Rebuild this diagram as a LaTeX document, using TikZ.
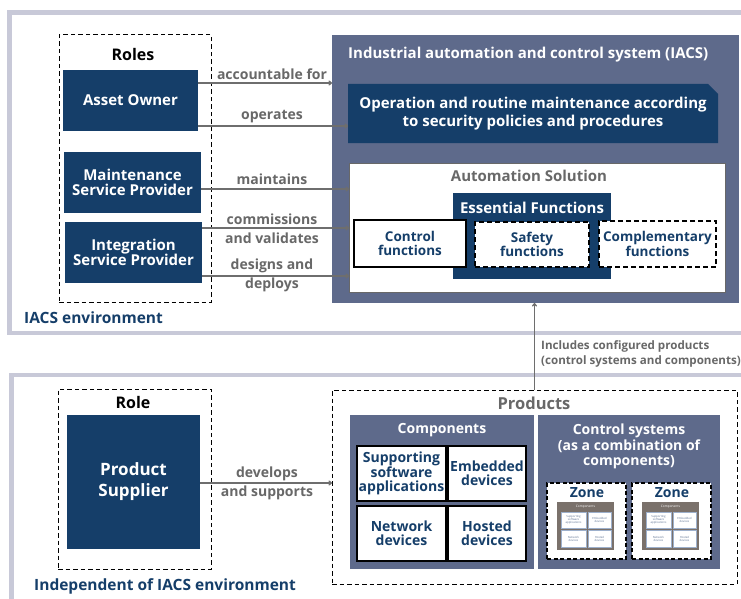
\documentclass[tikz,border=0pt]{standalone}
\usepackage{fontspec}
\setmainfont{Open Sans}
\usetikzlibrary{arrows.meta,calc}
\definecolor{dblue}{HTML}{153E69}
\definecolor{slate}{HTML}{5E6A8B}
\definecolor{panelc}{HTML}{C8C9D8}
\definecolor{txtgray}{HTML}{686868}
\definecolor{arrgray}{HTML}{6E6E6E}
\definecolor{zonebg}{HTML}{7A716B}
\definecolor{minib}{HTML}{9DB0CC}
\definecolor{minit}{HTML}{5A6F90}
\newcommand{\fs}[1]{\fontsize{#1}{#1}\selectfont\bfseries}
\tikzset{
  box/.style={anchor=north west, inner sep=0pt, outer sep=0pt, align=center},
  dbox/.style={box, fill=dblue, text=white, font=\fs{15}\linespread{1.0}},
  wbox/.style={box, fill=white, draw=black, line width=1.5pt, text=dblue, font=\fs{13.5}},
  wdbox/.style={wbox, dashed, dash pattern=on 5pt off 3pt},
  rolebox/.style={box, draw=black, line width=1pt, dash pattern=on 4.5pt off 3pt},
  arr/.style={draw=arrgray, line width=1.3pt, -{To[length=3.5pt,width=5pt]}},
  lbl/.style={text=txtgray, font=\fs{14}, align=center, inner sep=0pt},
  panel/.style={draw=panelc, line width=4.5pt},
  mini/.style={box, fill=white, draw=minib, line width=0.6pt, text=minit, font=\fontsize{2.8}{3}\selectfont},
}
\newcommand{\zonebox}[2]{%
\begin{scope}[shift={(#1,0)}]
  \node[box, fill=white, draw=black, line width=1.6pt, dash pattern=on 4pt off 2.5pt, minimum width=79, minimum height=76] (#2) at (547,483) {};
  \node[text=dblue, font=\fs{14}, inner sep=0pt] (#2t) at (587,493) {Zone};
  \node[box, fill=zonebg, minimum width=57, minimum height=48] (#2c) at (557,502) {};
  \node[text=white, font=\fontsize{3.2}{3.5}\selectfont, inner sep=0pt] (#2ct) at (585.5,507) {Components};
  \node[mini, minimum width=25, minimum height=16] (#2a) at (561,512) {Supporting\\software\\applications};
  \node[mini, minimum width=23, minimum height=16] (#2b) at (588,512) {Embedded\\devices};
  \node[mini, minimum width=25, minimum height=17] (#2d) at (561,530) {Network\\devices};
  \node[mini, minimum width=23, minimum height=17] (#2e) at (588,530) {Hosted\\devices};
\end{scope}}
\begin{document}
\begin{tikzpicture}[x=1pt,y=-1pt]
\useasboundingbox (0,0) rectangle (741,599);
\fill[white] (0,0) rectangle (741,599);
% panels
\draw[panel] (745,12.5) -| (9.5,333) -- (745,333);
\draw[panel] (745,375) -| (11.5,605);
% ---------- top ----------
\node[rolebox, minimum width=152, minimum height=267] (roles) at (59,35) {};
\node[font=\fs{16}, inner sep=0pt] (rolest) at (133,55) {Roles};
\node[dbox, minimum width=135, minimum height=61] (ao) at (63,70) {Asset Owner};
\node[dbox, minimum width=137, minimum height=61] (msp) at (64,152) {Maintenance\\Service Provider};
\node[dbox, minimum width=137, minimum height=61] (isp) at (65,222) {Integration\\Service Provider};
% IACS
\node[box, fill=slate, minimum width=407, minimum height=268] (iacs) at (332,35) {};
\node[anchor=west, text=white, font=\fs{15}, inner sep=0pt] (iacst) at (348,55) {Industrial automation and control system (IACS)};
\fill[dblue] (348,84) -- (708,84) -- (718,94) -- (718,143) -- (348,143) -- cycle;
\node[box, text=white, font=\fs{15}, minimum width=370, minimum height=59] (op) at (348,84) {Operation and routine maintenance according\\[3pt]to security policies and procedures};
\node[box, fill=white, draw=txtgray, line width=1pt, minimum width=376, minimum height=129] (as) at (349,163) {};
\node[text=txtgray, font=\fs{15}, inner sep=0pt] (ast) at (529,176) {Automation Solution};
\node[box, fill=dblue, minimum width=158, minimum height=86] (ef) at (453,193) {};
\node[text=white, font=\fs{15}, inner sep=0pt] (eft) at (532,208) {Essential Functions};
\node[wbox, minimum width=112, minimum height=47] (cf) at (354,220) {Control\\functions};
\node[wdbox, minimum width=114, minimum height=45] (sf) at (475,222) {Safety\\functions};
\node[wdbox, minimum width=117, minimum height=46] (comp) at (599,221) {Complementary\\functions};
\node[anchor=west, text=dblue, font=\fs{15.5}, inner sep=0pt] (envt) at (24,318) {IACS environment};
% arrows top
\draw[arr] ([yshift=17.5pt]ao.east) coordinate (a1) -- (a1 -| iacs.west);
\draw[arr] ([yshift=-25.5pt]ao.east) coordinate (a2) -- (a2 -| op.west);
\draw[arr] ([yshift=-6.5pt]msp.east) coordinate (a3) -- (a3 -| as.west);
\draw[arr] ([yshift=24.5pt]isp.east) coordinate (a4) -- (a4 -| as.west);
\draw[arr] ([yshift=-23.5pt]isp.east) coordinate (a5) -- (a5 -| as.west);
\node[lbl] (l1) at (272,74) {accountable for};
\node[lbl] (l2) at (272,117) {operates};
\node[lbl] (l3) at (272,179) {maintains};
\node[lbl, align=center] (l4) at (272,228.5) {commissions\\[5pt]and validates};
\node[lbl, align=center] (l5) at (272,275) {designs and\\[5pt]deploys};
% ---------- bottom ----------
\node[rolebox, minimum width=153, minimum height=180] (role) at (58,389) {};
\node[font=\fs{16}, inner sep=0pt] (rolet) at (133,402) {Role};
\node[dbox, font=\fs{17}, minimum width=133, minimum height=134] (ps) at (67,415) {Product\\[4pt]Supplier};
\node[anchor=west, text=dblue, font=\fs{15.5}, inner sep=0pt] (indt) at (34,586) {Independent of IACS environment};
% products
\node[rolebox, minimum width=405, minimum height=194] (prod) at (332,390) {};
\node[text=txtgray, font=\fs{16.5}, inner sep=0pt] (prodt) at (534,403) {Products};
\node[box, fill=slate, minimum width=184, minimum height=154] (cmp) at (350,415) {};
\node[text=white, font=\fs{14}, inner sep=0pt] (cmpt) at (442,430) {Components};
\node[wbox, font=\fs{14}, minimum width=89, minimum height=55] (ssa) at (357,446) {Supporting\\software\\applications};
\node[wbox, font=\fs{14}, minimum width=78, minimum height=55] (emb) at (448,446) {Embedded\\devices};
\node[wbox, font=\fs{14}, minimum width=89, minimum height=55] (net) at (357,506) {Network\\devices};
\node[wbox, font=\fs{14}, minimum width=78, minimum height=55] (hos) at (448,506) {Hosted\\devices};
\node[box, fill=slate, minimum width=182, minimum height=154] (cs) at (538,415) {};
\node[text=white, font=\fs{14}, align=center, inner sep=0pt] (cst) at (629,446) {Control systems\\[1pt](as a combination of\\[1pt]components)};
\zonebox{0}{za}
\zonebox{85}{zb}
% arrows bottom
\draw[arr] ([yshift=-1pt]ps.east) coordinate (a6) -- (a6 -| prod.west);
\node[lbl, align=center] (l6) at (267,483) {develops\\[5pt]and supports};
\draw[arr] (prod.north) -- (prod.north |- iacs.south);
\node[anchor=west, text=txtgray, font=\fs{11.6}, align=left, inner sep=0pt] (inct) at (541,354) {Includes configured products\\[3.5pt](control systems and components)};
\end{tikzpicture}
\end{document}
